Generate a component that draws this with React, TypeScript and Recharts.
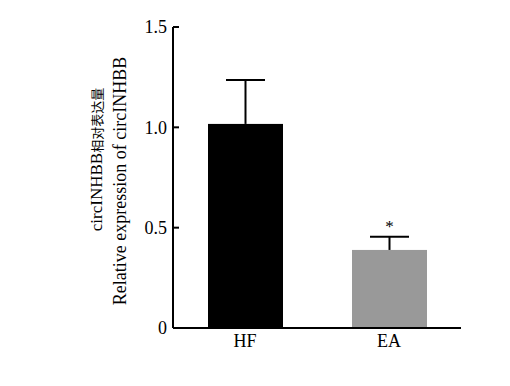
import React from 'react';
import { BarChart, Bar, XAxis, YAxis } from 'recharts';

const categories = ['HF', 'EA'];
const means = [1.017, 0.389];
const errors = [0.219, 0.066];
const marks = ['', '*'];
const colors = ['#000000', '#999999'];
const yTicks = [0, 0.5, 1.0, 1.5];
const yLabelLine1Latin = 'circINHBB';
const yLabelLine1Cjk = '相对表达量';
const yLabelLine2 = 'Relative expression of circINHBB';

const data = categories.map((name, i) => ({
  name,
  mean: means[i],
  error: errors[i],
  mark: marks[i],
  color: colors[i],
}));

const SERIF = '"Liberation Serif", "Times New Roman", serif';
const CJK = '"Noto Sans CJK SC", sans-serif';

const BarWithWhisker = (props: any) => {
  const { x, y, width, height, payload } = props;
  const pxPerUnit = height / payload.mean;
  const top = y - payload.error * pxPerUnit;
  const cx = x + width / 2;
  return (
    <g>
      <rect x={x} y={y} width={width} height={height} fill={payload.color} />
      <line x1={cx} y1={y} x2={cx} y2={top} stroke="#000" strokeWidth={2} />
      <line x1={cx - 19.5} y1={top} x2={cx + 19.5} y2={top} stroke="#000" strokeWidth={2} />
      {payload.mark ? (
        <text x={cx} y={top - 5} textAnchor="middle" fontFamily={SERIF} fontSize={17} fill="#000">
          {payload.mark}
        </text>
      ) : null}
    </g>
  );
};

const YLabel = () => (
  <g>
    <text
      x={102}
      y={159.5}
      textAnchor="middle"
      transform="rotate(-90, 102, 159.5)"
      fill="#000"
      fontFamily={SERIF}
      fontSize={17}
    >
      {yLabelLine1Latin}
      <tspan fontFamily={CJK} fontSize={13}>{yLabelLine1Cjk}</tspan>
    </text>
    <text
      x={126}
      y={181}
      textAnchor="middle"
      transform="rotate(-90, 126, 181)"
      fill="#000"
      fontFamily={SERIF}
      fontSize={18}
    >
      {yLabelLine2}
    </text>
  </g>
);

export default function App() {
  return (
    <div style={{ position: 'absolute', left: 0, top: 0, background: '#fff' }}>
      <BarChart
        width={510}
        height={386}
        data={data}
        margin={{ top: 27, right: 49, bottom: 0, left: 0 }}
      >
        <XAxis
          dataKey="name"
          height={58}
          tickLine={false}
          axisLine={{ stroke: '#000', strokeWidth: 2 }}
          tick={{ fill: '#000', fontSize: 18, fontFamily: SERIF }}
          tickSize={4}
          tickMargin={2}
        />
        <YAxis
          width={173}
          domain={[0, 1.5]}
          ticks={yTicks}
          interval={0}
          tickFormatter={(v: number) => (v === 0 ? '0' : v.toFixed(1))}
          axisLine={{ stroke: '#000', strokeWidth: 2 }}
          tickLine={{ stroke: '#000', strokeWidth: 2 }}
          tickSize={-6}
          tickMargin={12}
          tick={{ fill: '#000', fontSize: 18, fontFamily: SERIF }}
          label={{ content: () => <YLabel /> }}
        />
        <Bar dataKey="mean" barSize={75} shape={BarWithWhisker} isAnimationActive={false} />
      </BarChart>
    </div>
  );
}
